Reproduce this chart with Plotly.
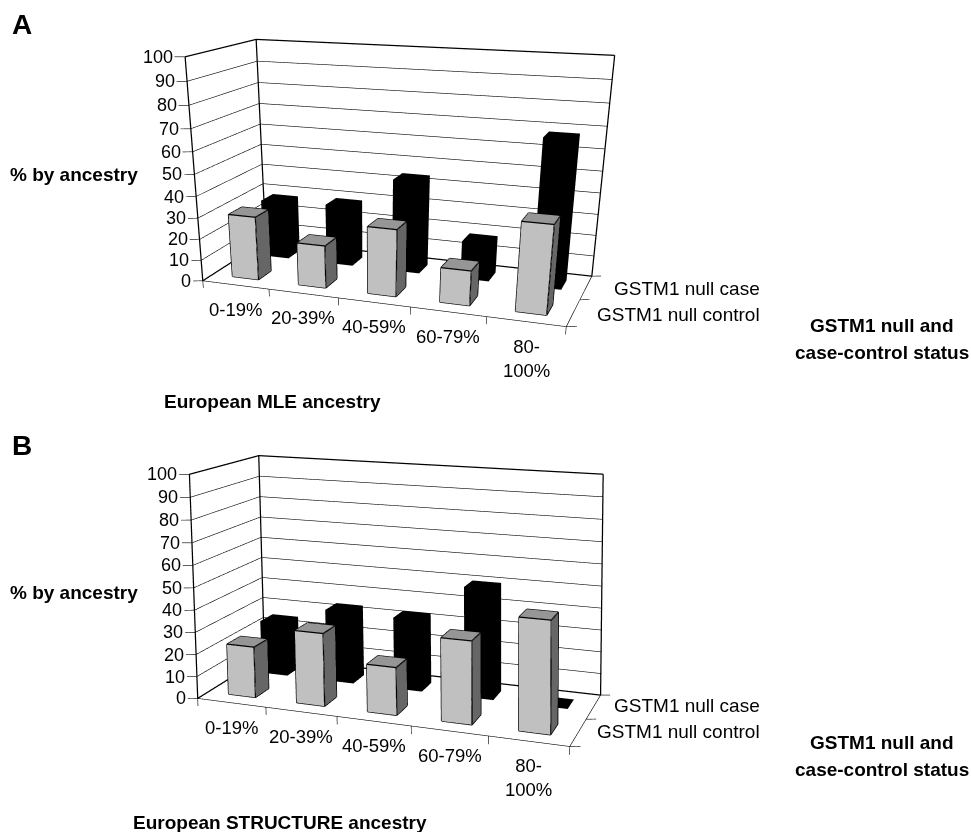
import plotly.graph_objects as go

categories = ["0-19%", "20-39%", "40-59%", "60-79%", "80-<br>100%"]
value_ticks = list(range(0, 101, 10))
control_a = [30, 20, 31, 16, 40]
case_a = [28, 29, 44, 18, 68]
control_b = [23, 32.5, 21, 36, 48]
case_b = [25, 33.5, 33, 50, 0]

W, H = 971, 832
XR, YR, ZR = [-0.5, 5.5], [-0.5, 2.5], [-10, 110]
# eye xyz, center xyz, aspect x y, up x y, principal point x (pixels)
CAM_A = [1.1836,-3.6009,0.8801,0.3213,-1.1787,-0.4126,1.7125,0.8674,-0.7384,2.0620,375.2079]
CAM_B = [1.5006,-3.2809,1.0496,-0.2767,3.0930,0.2724,1.6934,0.6735,-0.9747,3.4639,555.0]


def bar_mesh(cat, ser, val, top, front, side):
    x0, x1 = cat+0.3, cat+0.7
    y0, y1 = ser+0.3, ser+0.7
    xs = [x0,x1,x1,x0,x0,x1,x1,x0]
    ys = [y0,y0,y1,y1,y0,y0,y1,y1]
    zs = [0,0,0,0,val,val,val,val]
    i = [0,0,1,1,4,4,3,3]
    j = [1,5,2,6,5,6,0,4]
    k = [5,4,6,5,6,7,4,7]
    fc = [front,front,side,side,top,top,side,side]
    return go.Mesh3d(x=xs,y=ys,z=zs,i=i,j=j,k=k,facecolor=fc,flatshading=True,
                     lighting=dict(ambient=1,diffuse=0,specular=0,fresnel=0,roughness=1),
                     hoverinfo="skip",showscale=False)


def lines(segs, width, scene):
    xs, ys, zs = [], [], []
    for a, b in segs:
        xs += [a[0], b[0], None]; ys += [a[1], b[1], None]; zs += [a[2], b[2], None]
    return go.Scatter3d(x=xs,y=ys,z=zs,mode="lines",line=dict(color="black",width=width),
                        hoverinfo="skip",showlegend=False,scene=scene)


fig = go.Figure()


def panel(scene, control, case):
    thick = [((0,0,0),(0,0,100)),((0,2,0),(0,2,100)),((5,2,0),(5,2,100)),
             ((0,0,100),(0,2,100)),((0,2,100),(5,2,100)),((0,0,0),(0,2,0)),((0,2,0),(5,2,0))]
    thin = []
    for v in value_ticks[1:-1]:
        thin += [((0,0,v),(0,2,v)),((0,2,v),(5,2,v))]
    thin += [((0,0,0),(5,0,0)),((5,0,0),(5,2,0))]
    for v in value_ticks:
        thin.append(((0,0,v),(-0.12,-0.05,v)))
    for c in range(6):
        thin.append(((c,0,0),(c,0,-3.5)))
    for s in range(3):
        thin.append(((5,s,0),(5.12,s+0.05,0)))
    fig.add_trace(lines(thin, 1.2, scene))
    fig.add_trace(lines(thick, 2.5, scene))
    edges = []
    for c, (vc, va) in enumerate(zip(control, case)):
        m = bar_mesh(c, 1, va, "#000000", "#000000", "#000000"); m.scene = scene; fig.add_trace(m)
        m = bar_mesh(c, 0, vc, "#969696", "#C0C0C0", "#666666"); m.scene = scene; fig.add_trace(m)
        x0,x1,y0,y1 = c+.3,c+.7,.3,.7
        edges += [((x0,y0,0),(x1,y0,0)),((x1,y0,0),(x1,y0,vc)),((x1,y0,vc),(x0,y0,vc)),((x0,y0,vc),(x0,y0,0)),
                  ((x1,y0,0),(x1,y1,0)),((x1,y1,0),(x1,y1,vc)),((x1,y1,vc),(x1,y0,vc)),((x0,y0,vc),(x0,y1,vc)),
                  ((x0,y1,vc),(x1,y1,vc))]
    fig.add_trace(lines(edges, 2.5, scene))


panel("scene", control_a, case_a)
panel("scene2", control_b, case_b)


def scene_layout(p):
    ann = []
    f = dict(family="Liberation Sans", size=18, color="black")
    for v in value_ticks:
        ann.append(dict(x=0,y=0,z=v,text=str(v),showarrow=False,xanchor="right",yanchor="middle",xshift=-10,font=f))
    f2 = dict(family="Liberation Sans", size=18.5, color="black")
    for c, t in enumerate(categories):
        ann.append(dict(x=c+.5,y=0,z=0,text=t,showarrow=False,xanchor="center",yanchor="top",yshift=-12,font=f2))
    ax = dict(visible=False)
    hw = min(p[10], W-p[10])
    return dict(domain=dict(x=[(p[10]-hw)/W,(p[10]+hw)/W], y=[0,1]),
                xaxis=dict(range=XR,**ax), yaxis=dict(range=YR,**ax), zaxis=dict(range=ZR,**ax),
                aspectmode="manual", aspectratio=dict(x=p[6],y=p[7],z=1),
                camera=dict(eye=dict(x=p[0],y=p[1],z=p[2]),center=dict(x=p[3],y=p[4],z=p[5]),
                            up=dict(x=p[8],y=p[9],z=1)),
                bgcolor="rgba(0,0,0,0)", annotations=ann)


def txt(x, y, t, size=19, bold=False, anchor="center"):
    return dict(x=x/W,y=1-y/H,xref="paper",yref="paper",text=("<b>%s</b>"%t if bold else t),showarrow=False,
                xanchor=anchor,yanchor="middle",font=dict(family="Liberation Sans",size=size,color="black"))


anns = [txt(22,25,"A",28,True),txt(22,445,"B",28,True)]
for off in (0,417):
    anns += [txt(74,175+off,"% by ancestry",19,True),
             txt(762,288+off,"GSTM1 null case",19,False,"right"),
             txt(762,314+off,"GSTM1 null control",19,False,"right"),
             txt(882,325+off,"GSTM1 null and",19,True),txt(882,352+off,"case-control status",19,True)]
anns += [txt(272,401,"European MLE ancestry",19,True),txt(280,822,"European STRUCTURE ancestry",19,True)]

fig.update_layout(width=W,height=H,margin=dict(l=0,r=0,t=0,b=0),paper_bgcolor="white",showlegend=False,
                  scene=scene_layout(CAM_A),scene2=scene_layout(CAM_B),annotations=anns)
fig.write_html("out.html", post_script="document.body.style.margin='0';", config=dict(displayModeBar=False))
